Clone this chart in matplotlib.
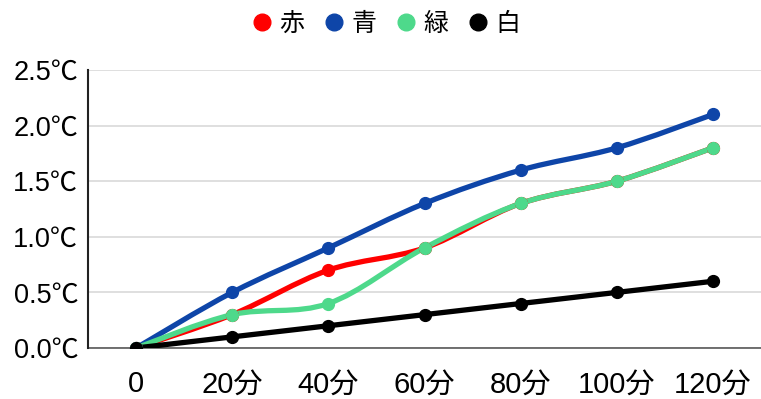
#!/usr/bin/env python3

import numpy as np
import matplotlib.pyplot as plt
from matplotlib.path import Path
from matplotlib.patches import PathPatch
from matplotlib.lines import Line2D

plt.rcParams['font.family'] = ['Liberation Sans', 'Noto Sans CJK JP']

x_labels = ['0', '20分', '40分', '60分', '80分', '100分', '120分']
y_labels = ['0.0℃', '0.5℃', '1.0℃', '1.5℃', '2.0℃', '2.5℃']

names = ['赤', '青', '緑', '白']
red   = [0.0, 0.3, 0.7, 0.9, 1.3, 1.5, 1.8]
blue  = [0.0, 0.5, 0.9, 1.3, 1.6, 1.8, 2.1]
green = [0.0, 0.3, 0.4, 0.9, 1.3, 1.5, 1.8]
white = [0.0, 0.1, 0.2, 0.3, 0.4, 0.5, 0.6]
series = [red, blue, green, white]
colors = ['#FF0000', '#0E45A8', '#4ED98B', '#000000']


def smooth_path(xs, ys):
    # catmull-rom style bezier through the points, like a spreadsheet "smooth line"
    pts = np.column_stack([xs, ys]).astype(float)
    n = len(pts)
    verts = [pts[0]]
    codes = [Path.MOVETO]
    for i in range(n - 1):
        p0 = pts[max(i - 1, 0)]
        p1 = pts[i]
        p2 = pts[i + 1]
        p3 = pts[min(i + 2, n - 1)]
        c1 = p1 + (p2 - p0) / 6.0
        c2 = p2 - (p3 - p1) / 6.0
        verts += [c1, c2, p2]
        codes += [Path.CURVE4] * 3
    return Path(verts, codes)


def main():
    fig = plt.figure(figsize=(7.61, 3.99), dpi=100)
    ax = fig.add_axes([88 / 761, 51 / 399, 673 / 761, 278 / 399])

    xs = np.arange(len(x_labels))
    for vals, c in zip(series, colors):
        patch = PathPatch(smooth_path(xs, vals), facecolor='none', edgecolor=c,
                          lw=3.8, capstyle='round', joinstyle='round', zorder=3)
        ax.add_patch(patch)
        ax.plot(xs, vals, 'o', color=c, markersize=8.5, zorder=4)

    ax.set_xlim(-0.5, len(x_labels) - 0.5)
    ax.set_ylim(0, 2.5)
    ax.set_xticks(xs)
    ax.set_xticklabels(x_labels, fontsize=21)
    ax.set_yticks(np.arange(0, 2.51, 0.5))
    ax.set_yticklabels(y_labels, fontsize=19.5)
    ax.tick_params(axis='both', length=0)
    ax.tick_params(axis='x', pad=16)
    ax.tick_params(axis='y', pad=7)
    ax.grid(axis='y', color='#D9D9D9', lw=1.2)
    ax.set_axisbelow(True)
    for s in ['top', 'right']:
        ax.spines[s].set_visible(False)
    ax.spines['left'].set_color('#222222')
    ax.spines['left'].set_linewidth(1.5)
    ax.spines['bottom'].set_color('#595959')
    ax.spines['bottom'].set_linewidth(1.2)
    ax.spines['left'].set_zorder(5)

    handles = [Line2D([], [], marker='o', color=c, linestyle='none', markersize=12)
               for c in colors]
    fig.legend(handles, names, loc='center', bbox_to_anchor=(386 / 761, 1 - 24 / 399),
               ncol=4, frameon=False, fontsize=18, handletextpad=0.3,
               columnspacing=0.78, handlelength=0.8)

    plt.savefig('out.png')


if __name__ == '__main__':
    main()
